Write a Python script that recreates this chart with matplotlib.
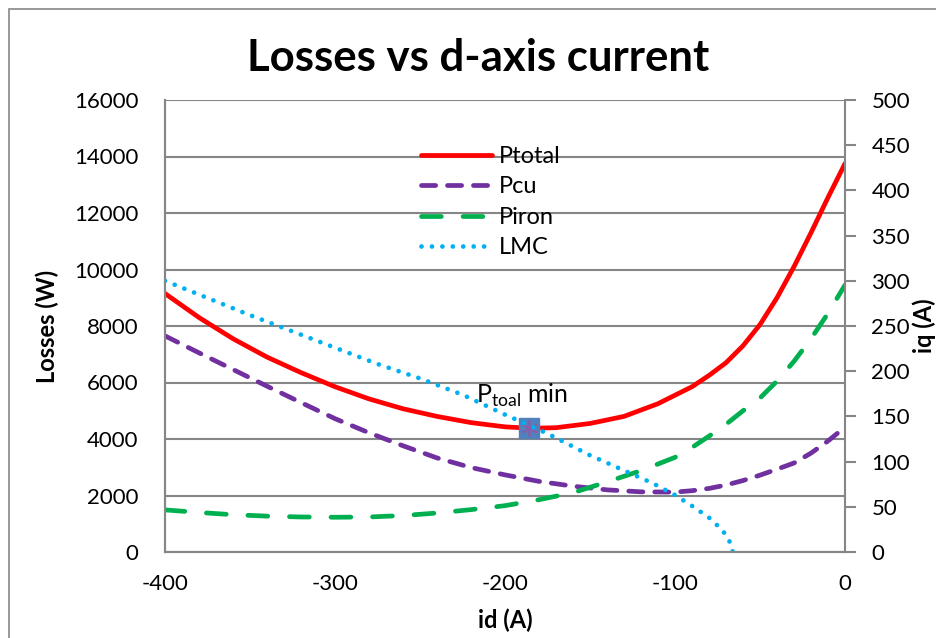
import numpy as np
import matplotlib
matplotlib.use('Agg')
import matplotlib.pyplot as plt
from matplotlib.patches import Rectangle

plt.rcParams['font.family'] = ['Lato', 'DejaVu Sans']
plt.rcParams['mathtext.fontset'] = 'custom'
plt.rcParams['mathtext.rm'] = 'Lato'
plt.rcParams['axes.unicode_minus'] = False

# values
id_tot = [-400, -380, -360, -340, -320, -300, -280, -260, -240, -220, -200, -185, -170, -150, -130,
          -110, -90, -80, -70, -60, -50, -40, -30, -20, -10, 0]
p_total = [9150, 8300, 7550, 6900, 6350, 5850, 5420, 5070, 4800, 4580, 4430, 4380, 4400, 4550, 4800,
           5250, 5850, 6250, 6700, 7300, 8050, 9000, 10100, 11300, 12550, 13750]

id_cu = [-400, -380, -360, -340, -320, -300, -280, -260, -240, -220, -200, -180, -160, -140, -120,
         -100, -90, -80, -70, -60, -50, -40, -30, -20, -10, 0]
p_cu = [7650, 7050, 6460, 5870, 5290, 4720, 4220, 3760, 3330, 2990, 2730, 2500, 2330, 2200, 2130,
        2120, 2170, 2250, 2370, 2530, 2720, 2930, 3150, 3500, 3930, 4420]

id_fe = [-400, -380, -360, -340, -320, -300, -280, -260, -240, -220, -200, -180, -160, -140, -120,
         -100, -90, -80, -70, -60, -50, -40, -30, -20, -10, 0]
p_iron = [1490, 1400, 1320, 1270, 1240, 1230, 1240, 1290, 1380, 1500, 1640, 1850, 2100, 2480, 2880,
          3350, 3700, 4100, 4520, 5000, 5450, 6050, 6750, 7550, 8450, 9450]

id_lmc = [-400, -375, -350, -325, -300, -275, -250, -225, -200, -175, -150, -125, -113, -100,
          -90, -80, -72, -68, -66]
iq_lmc = [300, 281, 262, 244, 226, 208, 192, 174, 152, 131, 107, 86, 76, 63, 51, 38, 24, 12, 0]

id_min, p_min = -186, 4400

fig = plt.figure(figsize=(9.37, 6.38), dpi=100)
fig.patches.append(Rectangle((9 / 937, -0.1), 1.2, 1 - 9 / 638 + 0.1, transform=fig.transFigure,
                             fill=False, edgecolor='#868686', linewidth=1.2))

ax = fig.add_axes([165 / 937, 1 - 552 / 638, 680 / 937, 452 / 638])
ax2 = ax.twinx()

grid_c = '#868686'
lw = 3.4
ax.plot(id_tot, p_total, color='#FF0000', lw=lw, label='Ptotal', solid_capstyle='round', solid_joinstyle='round')
ax.plot(id_cu, p_cu, color='#7030A0', lw=lw, ls=(0, (3.0, 2.5)), dash_capstyle='round', label='Pcu')
ax.plot(id_fe, p_iron, color='#00B050', lw=lw, ls=(0, (4.2, 4.6)), dash_capstyle='round', label='Piron')
l4, = ax2.plot(id_lmc, iq_lmc, color='#00B0F0', lw=lw, ls=(0, (0.01, 2.2)), dash_capstyle='round', label='LMC')

ax.plot([id_min], [p_min], marker='s', ms=15, color='#4F81BD', mec='#4F81BD', zorder=5)
ax.plot([id_min], [p_min], marker=(6, 2, 0), ms=12, color='#8B5BA8', mew=1.2, zorder=6)
ax.text(id_min - 31, p_min + 650, r'P$_{\mathrm{toal}}$ min', fontsize=18, ha='left', va='bottom')

ax.set_xlim(-400, 0)
ax.set_ylim(0, 16000)
ax2.set_ylim(0, 500)
ax.set_xticks(np.arange(-400, 1, 100))
ax.set_yticks(np.arange(0, 16001, 2000))
ax2.set_yticks(np.arange(0, 501, 50))

ax.grid(axis='y', color=grid_c, lw=1.5)
ax.set_axisbelow(True)
for a in (ax, ax2):
    for s in a.spines.values():
        s.set_color(grid_c)
        s.set_linewidth(1.5)
    a.spines['top'].set_visible(False)
ax.spines['right'].set_visible(False)

ax.tick_params(axis='both', length=0, labelsize=16, pad=19)
ax.tick_params(axis='x', pad=16)
ax2.tick_params(axis='y', length=8, width=1.5, color=grid_c, labelsize=16, pad=11)

ax.set_xlabel('id (A)', fontsize=17, fontweight='bold', va='center')
ax.xaxis.set_label_coords(0.5, (552 - 620) / 452)
ax.set_ylabel('Losses (W)', fontsize=17, fontweight='bold', va='center')
ax.yaxis.set_label_coords((47 - 165) / 680, 0.5)
ax2.set_ylabel('iq (A)', fontsize=17, fontweight='bold', va='center', rotation=90)
ax2.yaxis.set_label_coords((924 - 165) / 680, 0.5)

fig.suptitle('Losses vs d-axis current', fontsize=31.5, fontweight='bold', x=478 / 937, y=1 - 38 / 638, va='top')

h1, lab1 = ax.get_legend_handles_labels()
leg = ax.legend(h1 + [l4], lab1 + ['LMC'], loc='upper left', bbox_to_anchor=((421 - 165) / 680, (552 - 146) / 452),
                frameon=False, fontsize=17, handlelength=3.0, handletextpad=0.3, labelspacing=0.4,
                borderpad=0, borderaxespad=0)

fig.savefig('out.png', dpi=100)
